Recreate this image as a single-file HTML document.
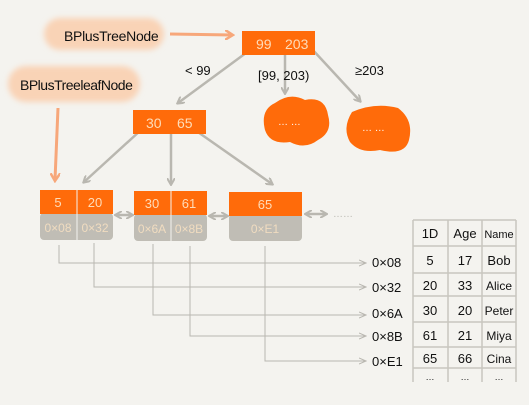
<!DOCTYPE html>
<html><head><meta charset="utf-8"><style>
html,body{margin:0;padding:0;background:#f4f3ef;width:529px;height:405px;overflow:hidden}
svg{display:block}
text{font-family:"Liberation Sans",sans-serif}
</style></head><body>
<svg width="529" height="405" viewBox="0 0 529 405">
<defs>
<filter id="bl" x="-20%" y="-30%" width="140%" height="160%"><feGaussianBlur stdDeviation="3"/></filter>
<marker id="ag" markerWidth="8" markerHeight="8" refX="6" refY="4" orient="auto-start-reverse" markerUnits="userSpaceOnUse"><path d="M0,0 L7,4 L0,8" fill="none" stroke="#b9b7b0" stroke-width="2"/></marker>
<marker id="ao" markerWidth="10" markerHeight="10" refX="7" refY="5" orient="auto" markerUnits="userSpaceOnUse"><path d="M0,0 L8,5 L0,10" fill="none" stroke="#f7a77a" stroke-width="2.5"/></marker>
<marker id="at" markerWidth="8" markerHeight="8" refX="7" refY="4" orient="auto" markerUnits="userSpaceOnUse"><path d="M0,1 L7,4 L0,7" fill="none" stroke="#b9b7b0" stroke-width="1"/></marker>
</defs>
<!-- label blobs -->
<rect x="44" y="18" width="120" height="32" rx="16" fill="#f9d3b6" filter="url(#bl)"/>
<rect x="8" y="66" width="132" height="36" rx="18" fill="#f9d3b6" filter="url(#bl)"/>
<text x="64" y="41" font-size="14" fill="#111" letter-spacing="-0.3">BPlusTreeNode</text>
<text x="20" y="90" font-size="14" fill="#111" letter-spacing="-0.5">BPlusTreeleafNode</text>
<line x1="170" y1="34" x2="232" y2="35" stroke="#f7a77a" stroke-width="3" marker-end="url(#ao)"/>
<line x1="58" y1="108" x2="55" y2="180" stroke="#f7a77a" stroke-width="3" marker-end="url(#ao)"/>
<!-- tree arrows -->
<g stroke="#b9b7b0" stroke-width="2.5" marker-end="url(#ag)">
<line x1="250" y1="50" x2="178" y2="103"/>
<line x1="285" y1="52" x2="285" y2="93"/>
<line x1="311" y1="48" x2="360" y2="101"/>
<line x1="141" y1="130" x2="84" y2="182"/>
<line x1="171" y1="133" x2="171" y2="184"/>
<line x1="195" y1="130" x2="272" y2="184"/>
<line x1="116" y1="215" x2="132" y2="215" marker-start="url(#ag)"/>
<line x1="210" y1="216" x2="227" y2="216" marker-start="url(#ag)"/>
<line x1="306" y1="214" x2="326" y2="214" marker-start="url(#ag)"/>
</g>
<text x="333" y="217" font-size="10" fill="#b9b7b0">……</text>
<text x="185" y="75" font-size="13" fill="#111">&lt; 99</text>
<text x="258" y="80" font-size="13" fill="#111">[99, 203)</text>
<text x="355" y="75" font-size="13" fill="#111">≥203</text>
<!-- top node -->
<rect x="242" y="31" width="73" height="24" fill="#ff6b0a"/>
<text x="256" y="49" font-size="14" fill="#ffdcb8">99</text><text x="285" y="49" font-size="14" fill="#ffdcb8">203</text>
<!-- clouds -->
<path d="M275,103 Q290,92 305,100 Q325,96 328,115 Q333,132 318,140 Q305,150 290,142 Q270,145 265,130 Q260,110 275,103Z" fill="#ff6b0a"/>
<path d="M352,112 Q375,102 398,108 Q414,120 409,140 Q405,156 380,150 Q360,154 350,142 Q342,128 352,112Z" fill="#ff6b0a"/>
<text x="278" y="125" font-size="10" fill="#fff">… …</text>
<text x="362" y="131" font-size="10" fill="#fff">… …</text>
<!-- mid node -->
<rect x="133" y="110" width="73" height="24" fill="#ff6b0a"/>
<text x="146" y="128" font-size="14" fill="#ffdcb8">30</text><text x="177" y="128" font-size="14" fill="#ffdcb8">65</text>
<!-- leaves -->
<g font-size="11" text-anchor="middle">
<rect x="40" y="213" width="73" height="27" rx="4" fill="#c0bdb5"/>
<rect x="40" y="190" width="73" height="24" fill="#ff6b0a"/>
<line x1="77" y1="190" x2="77" y2="240" stroke="#f4f3ef" stroke-width="1"/>
<text x="58" y="207" fill="#ffdcb8" font-size="13">5</text><text x="95" y="207" fill="#ffdcb8" font-size="13">20</text>
<text x="58" y="232" fill="#f0dcc0" font-size="12">0×08</text><text x="95" y="232" fill="#f0dcc0" font-size="12">0×32</text>
<rect x="134" y="214" width="73" height="27" rx="4" fill="#c0bdb5"/>
<rect x="134" y="191" width="73" height="24" fill="#ff6b0a"/>
<line x1="171" y1="191" x2="171" y2="241" stroke="#f4f3ef" stroke-width="1"/>
<text x="152" y="208" fill="#ffdcb8" font-size="13">30</text><text x="189" y="208" fill="#ffdcb8" font-size="13">61</text>
<text x="152" y="233" fill="#f0dcc0" font-size="12">0×6A</text><text x="189" y="233" fill="#f0dcc0" font-size="12">0×8B</text>
<rect x="229" y="214" width="73" height="27" rx="4" fill="#c0bdb5"/>
<rect x="229" y="192" width="73" height="24" fill="#ff6b0a"/>
<text x="265" y="209" fill="#ffdcb8" font-size="13">65</text>
<text x="265" y="233" fill="#f0dcc0" font-size="12">0×E1</text>
</g>
<!-- pointer lines -->
<g stroke="#b9b7b0" stroke-width="1" fill="none" marker-end="url(#at)">
<path d="M59,245 V263 H366"/>
<path d="M94,243 V287 H366"/>
<path d="M153,244 V315 H366"/>
<path d="M190,246 V336 H366"/>
<path d="M265,246 V361 H366"/>
</g>
<g font-size="13" fill="#111">
<text x="372" y="267">0×08</text><text x="372" y="292">0×32</text><text x="372" y="318">0×6A</text><text x="372" y="341">0×8B</text><text x="372" y="366">0×E1</text>
</g>
<!-- table -->
<g stroke="#c8c6bf" stroke-width="1.5" fill="none">
<path d="M413,220 H516 M413,246 H516 M413,273 H516 M413,296 H516 M413,322 H516 M413,347 H516 M413,368 H516"/>
<path d="M413,220 V382 M448,220 V382 M482,220 V382 M516,220 V382"/>
</g>
<g font-size="13" fill="#111" text-anchor="middle">
<text x="430" y="238">1D</text><text x="465" y="238">Age</text><text x="499" y="238" font-size="11">Name</text>
<text x="430" y="265">5</text><text x="465" y="265">17</text><text x="499" y="265">Bob</text>
<text x="430" y="290">20</text><text x="465" y="290">33</text><text x="499" y="290" font-size="12">Alice</text>
<text x="430" y="315">30</text><text x="465" y="315">20</text><text x="499" y="315" font-size="12">Peter</text>
<text x="430" y="340">61</text><text x="465" y="340">21</text><text x="499" y="340" font-size="12">Miya</text>
<text x="430" y="363">65</text><text x="465" y="363">66</text><text x="499" y="363" font-size="12">Cina</text>
<text x="430" y="380" font-size="9">…</text><text x="465" y="380" font-size="9">…</text><text x="499" y="380" font-size="9">…</text>
</g>
</svg>
</body></html>
